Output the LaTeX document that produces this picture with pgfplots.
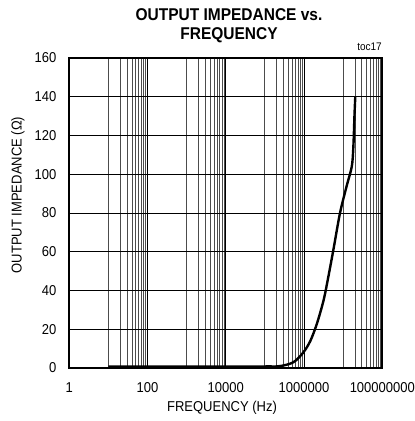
\documentclass[border=0pt]{standalone}
\usepackage{fontspec}
\setmainfont{Liberation Sans}
\usepackage{pgfplots}
\pgfplotsset{compat=1.18}
\begin{document}
\begin{tikzpicture}
\path[use as bounding box] (-69.3pt,-53pt) rectangle (345.7pt,368pt);
\begin{axis}[
  at={(0pt,0pt)}, anchor=south west,
  scale only axis, width=313pt, height=310pt,
  xmode=log, xmin=1, xmax=1e8,
  ymin=0, ymax=160,
  xtick={1,100,10000,1000000,100000000},
  xticklabels={1,100,10000,1000000,100000000},
  minor xtick={10,20,30,40,50,60,70,80,90,
    1000,2000,3000,4000,5000,6000,7000,8000,9000,
    100000,200000,300000,400000,500000,600000,700000,800000,900000,
    10000000,20000000,30000000,40000000,50000000,60000000,70000000,80000000,90000000},
  ytick={0,20,...,160},
  grid=both,
  major grid style={black, line width=0.9pt},
  minor grid style={black!70, line width=0.9pt},
  major tick length=0pt, minor tick length=0pt,
  axis line style={line width=2pt},
  tick label style={font=\fontsize{13}{15}\selectfont, yscale=1.1, transform shape},
  xticklabel style={yshift=-10pt},
  yticklabel style={xshift=-9.5pt},
  /pgf/number format/assume math mode=true,
  clip=false,
]
\addplot[black, line width=2.4pt, smooth, tension=0.5] table {
x y
10 0.8
1000 0.8
100000 0.8
245000 1.0
537000 3
955000 8
1450000 14
2140000 23
3160000 35
4170000 47
5620000 61
8300000 80
12300000 94
16600000 104
18200000 114
19500000 131
20400000 140
};
\end{axis}
\node[font=\fontsize{15.5}{18}\bfseries\selectfont, yscale=1.1, transform shape] at (159.7pt,353.5pt) {OUTPUT IMPEDANCE vs.};
\node[font=\fontsize{15.5}{18}\bfseries\selectfont, yscale=1.1, transform shape] at (159.7pt,333pt) {FREQUENCY};
\node[font=\fontsize{10}{12}\selectfont, anchor=east, inner sep=0pt, yscale=1.1, transform shape] at (312.7pt,321pt) {toc17};
\node[font=\fontsize{13}{15}\selectfont, yscale=1.1, transform shape] at (152.7pt,-40pt) {FREQUENCY (Hz)};
\node[font=\fontsize{13}{15}\selectfont, rotate=90, yscale=1.1, transform shape] at (-51.3pt,173pt) {OUTPUT IMPEDANCE (Ω)};
\end{tikzpicture}
\end{document}
